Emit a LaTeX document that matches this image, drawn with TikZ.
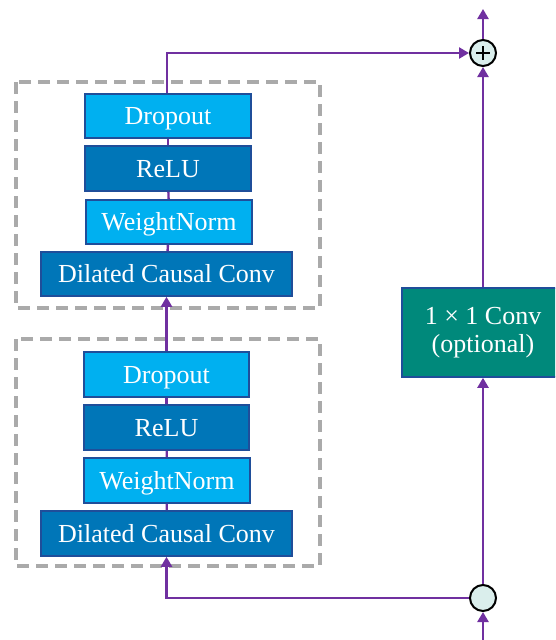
\documentclass[tikz,border=0pt]{standalone}
\usepackage{fontspec}
\setmainfont{Liberation Serif}
\usetikzlibrary{arrows.meta}
\definecolor{lightb}{RGB}{0,176,240}
\definecolor{darkb}{RGB}{0,118,184}
\definecolor{edgeb}{RGB}{31,78,154}
\definecolor{tealc}{RGB}{0,137,123}
\definecolor{purp}{RGB}{112,48,160}
\definecolor{circf}{RGB}{218,238,236}
\definecolor{dgrey}{RGB}{170,170,170}
\tikzset{
  blk/.style={draw=edgeb, line width=1.6pt, text=white, font=\fontsize{26}{28}\selectfont, inner sep=0pt, anchor=center},
  one/.style={text height=17pt, text depth=0pt},
  lblk/.style={blk, one, fill=lightb},
  dblk/.style={blk, one, fill=darkb},
  grp/.style={draw=dgrey, line width=3.2pt, dash pattern=on 12pt off 7pt},
  conn/.style={draw=purp, line width=2.4pt},
  arr/.style={conn, -{Triangle[length=10pt,width=11pt]}},
  circ/.style={circle, draw=black, line width=2pt, fill=circf, minimum size=26pt, inner sep=0pt}
}
\begin{document}
\begin{tikzpicture}[x=1pt,y=-1pt]
\useasboundingbox (0,0) rectangle (555,640);
\clip (0,0) rectangle (555,640);
% dashed groups
\draw[grp] (16,82) rectangle (320,308);
\draw[grp] (16,339) rectangle (320,566);
% top block
\node[lblk, minimum width=166pt, minimum height=44pt] (d1) at (168,116) {Dropout};
\node[dblk, minimum width=166pt, minimum height=45pt] (r1) at (168,168.5) {ReLU};
\node[lblk, minimum width=166pt, minimum height=44pt] (w1) at (169,222) {WeightNorm};
\node[dblk, minimum width=251pt, minimum height=44pt] (c1) at (166.5,274) {Dilated Causal Conv};
% bottom block
\node[lblk, minimum width=165pt, minimum height=45pt] (d2) at (166.5,374.5) {Dropout};
\node[dblk, minimum width=165pt, minimum height=45pt] (r2) at (166.5,427.5) {ReLU};
\node[lblk, minimum width=166pt, minimum height=45pt] (w2) at (167,480.5) {WeightNorm};
\node[dblk, minimum width=251pt, minimum height=45pt] (c2) at (166.5,533.5) {Dilated Causal Conv};
% 1x1 conv
\node[blk, fill=tealc, minimum width=162pt, minimum height=89pt, align=center] (cv) at (483,332.5) {1 × 1 Conv\\(optional)};
% circles
\node[circ] (plus) at (483,53) {};
\draw[line width=2pt] (plus.center) ++(-7,0) -- ++(14,0);
\draw[line width=2pt] (plus.center) ++(0,-7) -- ++(0,14);
\node[circ] (split) at (483,598) {};
\coordinate (inp) at (483,640);
\coordinate (outp) at (483,9);
% inner connections
\draw[conn] (c1) -- (w1);
\draw[conn] (w1) -- (r1);
\draw[conn] (r1) -- (d1);
\draw[conn] (c2) -- (w2);
\draw[conn] (w2) -- (r2);
\draw[conn] (r2) -- (d2);
\draw[arr] (d2.north -| c1.south) -- (c1.south);
\draw[arr] (d1.north -| 167,0) |- (plus.west);
\draw[arr] (split.west) -| (c2.south);
\draw[arr] (inp) -- (split.south);
\draw[arr] (split.north) -- (cv.south -| split);
\draw[arr] (cv.north -| plus) -- (plus.south);
\draw[arr] (plus.north) -- (outp);
\end{tikzpicture}
\end{document}
